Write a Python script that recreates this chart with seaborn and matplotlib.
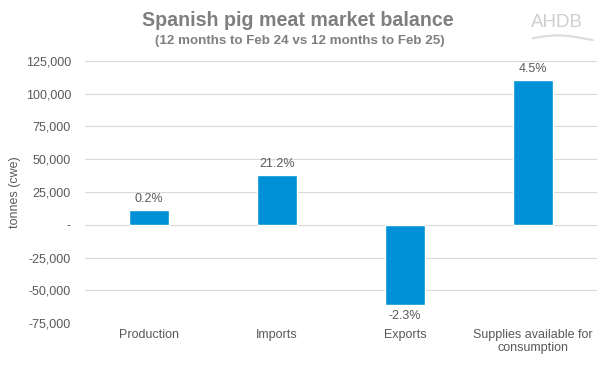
import matplotlib
matplotlib.use("Agg")
import matplotlib.pyplot as plt
import seaborn as sns
import pandas as pd
import numpy as np
from matplotlib.ticker import FuncFormatter
from matplotlib.lines import Line2D

categories = ["Production", "Imports", "Exports", "Supplies available for\nconsumption"]
values = [11000, 37800, -61500, 110300]
pct_labels = ["0.2%", "21.2%", "-2.3%", "4.5%"]
yticks = [-75000, -50000, -25000, 0, 25000, 50000, 75000, 100000, 125000]

sns.set_theme(style="white")
plt.rcParams['font.family'] = ['Liberation Sans', 'DejaVu Sans']

df = pd.DataFrame({"category": categories, "value": values})

fig = plt.figure(figsize=(6.02, 3.65), dpi=100)
ax = fig.add_axes([0.141, 0.115, 0.851, 0.718])

sns.barplot(data=df, x="category", y="value", color="#0090D6", saturation=1,
            width=0.31, ax=ax, zorder=3)

ax.set_ylim(-75000, 125000)
ax.set_yticks(yticks)
ax.yaxis.set_major_formatter(FuncFormatter(lambda v, p: "-" if v == 0 else f"{int(v):,}"))
ax.grid(axis="y", color="#D9D9D9", linewidth=0.8, zorder=0)
for s in ax.spines.values():
    s.set_visible(False)
ax.tick_params(axis="both", length=0, labelsize=9, colors="#595959", pad=4)
ax.tick_params(axis="y", pad=10)
ax.set_xlabel("")
ax.set_ylabel("tonnes (cwe)", fontsize=9, color="#595959")
ax.yaxis.set_label_coords(-0.124, 0.5)

for i, (v, lab) in enumerate(zip(values, pct_labels)):
    if v >= 0:
        ax.annotate(lab, (i, v), xytext=(0, 4), textcoords="offset points",
                    ha="center", va="bottom", fontsize=9, color="#595959")
    else:
        ax.annotate(lab, (i, v), xytext=(0, -3), textcoords="offset points",
                    ha="center", va="top", fontsize=9, color="#595959")

fig.text(0.495, 0.945, "Spanish pig meat market balance", ha="center", va="center",
         fontsize=14.1, fontweight="bold", color="#7F7F7F")
fig.text(0.498, 0.887, "(12 months to Feb 24 vs 12 months to Feb 25)", ha="center",
         va="center", fontsize=9.6, fontweight="bold", color="#7F7F7F")
fig.text(0.925, 0.937, "AHDB", ha="center", va="center", fontsize=13.5,
         color="#CFCFCF")
t = np.linspace(0, 1, 50)
xs = 0.885 + t * 0.10
ys = 0.895 + 0.008 * np.sin(t * np.pi * 1.2)
fig.add_artist(Line2D(xs, ys, transform=fig.transFigure, color="#DCDCDC", lw=1.5))

fig.savefig("out.png", dpi=100)
